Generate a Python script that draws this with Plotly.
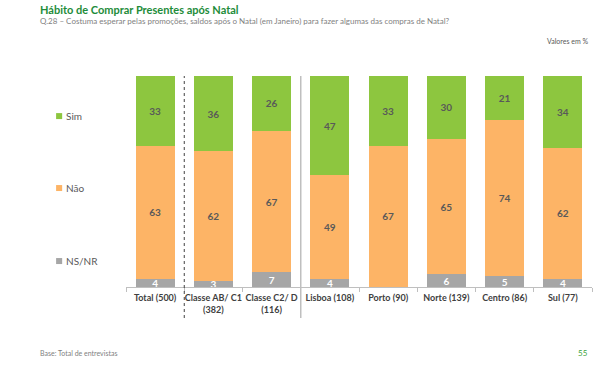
import plotly.graph_objects as go

categories = ["Total (500)", "Classe AB/ C1<br>(382)", "Classe C2/ D<br>(116)", "Lisboa (108)",
              "Porto (90)", "Norte (139)", "Centro (86)", "Sul (77)"]
nsnr = [4, 3, 7, 4, 0, 6, 5, 4]
nao = [63, 62, 67, 49, 67, 65, 74, 62]
sim = [33, 36, 26, 47, 33, 30, 21, 34]

GREEN = "#8DC63F"
ORANGE = "#FDB466"
GREY = "#A6A6A6"
FONT = "Lato"

def lbl(vals):
    return [str(v) if v else "" for v in vals]

fig = go.Figure()
series = [("NS/NR", nsnr, GREY, "white"), ("Não", nao, ORANGE, "#595959"), ("Sim", sim, GREEN, "#595959")]
for name, vals, col, tcol in series:
    fig.add_trace(go.Bar(
        x=categories, y=vals, name=name,
        marker=dict(color=col, line=dict(width=0)),
        text=lbl(vals), textposition="inside", insidetextanchor="middle",
        constraintext="none", textangle=0,
        textfont=dict(family=FONT, size=10, color=tcol, weight="bold"),
        hoverinfo="x+y+name", showlegend=False,
    ))

n = len(categories)
shapes = [
    dict(type="line", xref="paper", yref="paper", x0=1 / n, x1=1 / n, y0=-0.147, y1=1,
         line=dict(color="#404040", width=1, dash="dot")),
    dict(type="line", xref="paper", yref="paper", x0=3 / n, x1=3 / n, y0=-0.147, y1=1,
         line=dict(color="#BFBFBF", width=1.5)),
]

annotations = [
    dict(text="<b>Hábito de Comprar Presentes após Natal</b>", xref="paper", yref="paper",
         x=-0.189, y=1.313, xanchor="left", yanchor="middle", showarrow=False,
         font=dict(family=FONT, size=11, color="#1E8C3A")),
    dict(text="Q.28 – Costuma esperar pelas promoções, saldos após o Natal (em Janeiro) para fazer algumas das compras de Natal?",
         xref="paper", yref="paper", x=-0.189, y=1.261, xanchor="left", yanchor="middle", showarrow=False,
         font=dict(family=FONT, size=8, color="#7F7F7F")),
    dict(text="Valores em %", xref="paper", yref="paper", x=0.996, y=1.166, xanchor="right", yanchor="middle",
         showarrow=False, font=dict(family=FONT, size=7, color="#595959")),
    dict(text="Base: Total de entrevistas", xref="paper", yref="paper", x=-0.189, y=-0.313,
         xanchor="left", yanchor="middle", showarrow=False, font=dict(family=FONT, size=7, color="#7F7F7F")),
    dict(text="55", xref="paper", yref="paper", x=0.996, y=-0.313, xanchor="right", yanchor="middle",
         showarrow=False, font=dict(family=FONT, size=8, color="#3BA33B")),
]

# legend (drawn as squares + labels)
legend_items = [("Sim", GREEN, 0.810), ("Não", ORANGE, 0.469), ("NS/NR", GREY, 0.123)]
for name, col, yc in legend_items:
    shapes.append(dict(type="rect", xref="paper", yref="paper", x0=-0.150, x1=-0.137,
                       y0=yc - 0.0142, y1=yc + 0.0142, fillcolor=col, line=dict(width=0)))
    annotations.append(dict(text=name, xref="paper", yref="paper", x=-0.133, y=yc,
                            xanchor="left", yanchor="middle", showarrow=False,
                            font=dict(family=FONT, size=10, color="#595959")))

fig.update_layout(
    width=600, height=367,
    margin=dict(l=126, r=8, t=76, b=80),
    barmode="stack", barnorm="percent", bargap=0.33,
    plot_bgcolor="white", paper_bgcolor="white",
    font=dict(family=FONT, color="#404040"),
    showlegend=False,
    xaxis=dict(type="category", showline=True, linecolor="#BFBFBF", linewidth=1,
               ticks="outside", tickson="boundaries", ticklen=4, tickcolor="#BFBFBF",
               tickangle=0, ticklabelstandoff=2,
               tickfont=dict(family=FONT, size=9, color="#404040", weight="bold"),
               showgrid=False, zeroline=False),
    yaxis=dict(range=[0, 100], visible=False, showgrid=False, zeroline=False),
    shapes=shapes, annotations=annotations,
)

fig.write_html("out.html", config={"displayModeBar": False},
               post_script="document.body.style.margin='0';")
